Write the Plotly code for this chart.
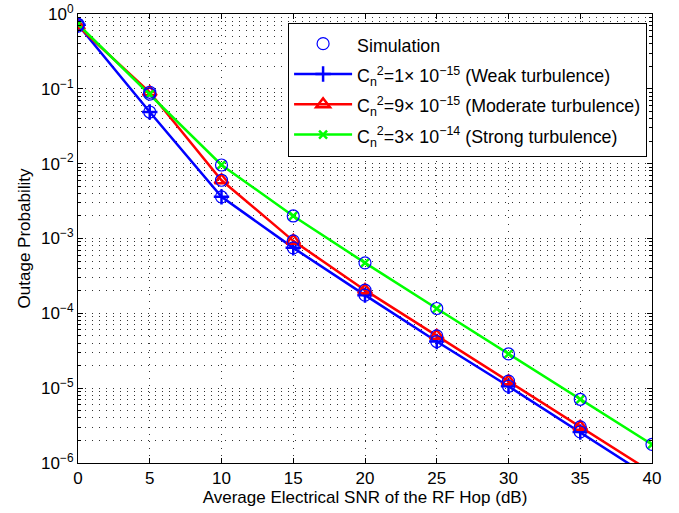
import plotly.graph_objects as go

snr = [0, 5, 10, 15, 20, 25, 30, 35, 40]
weak = [0.72, 0.049, 0.0036, 7.5e-4, 1.75e-4, 4.2e-5, 1.06e-5, 2.6e-6, 6.2e-7]
moderate = [0.69, 0.09, 0.0060, 9.3e-4, 2.04e-4, 5.0e-5, 1.24e-5, 3.04e-6, 7.5e-7]
strong = [0.73, 0.085, 0.0096, 2.0e-3, 4.73e-4, 1.16e-4, 2.87e-5, 7.1e-6, 1.77e-6]

names = [
    "C<sub>n</sub><sup>2</sup>=1× 10<sup>−15</sup> (Weak turbulence)",
    "C<sub>n</sub><sup>2</sup>=9× 10<sup>−15</sup> (Moderate turbulence)",
    "C<sub>n</sub><sup>2</sup>=3× 10<sup>−14</sup> (Strong turbulence)",
]
sim_name = "Simulation"
ytickvals = [1e-6, 1e-5, 1e-4, 1e-3, 1e-2, 1e-1, 1]
yticktext = ["10<sup>−6</sup>", "10<sup>−5</sup>", "10<sup>−4</sup>", "10<sup>−3</sup>",
             "10<sup>−2</sup>", "10<sup>−1</sup>", "10<sup>0</sup>"]
xtickvals = [0, 5, 10, 15, 20, 25, 30, 35, 40]

minor_vals = [m * 10.0 ** e for e in range(-6, 0) for m in range(2, 10)]


def leg(txt):
    return '<span style="font-size:17.8px">' + txt + "</span>"


fig = go.Figure()

styles = [
    dict(color="#0000ff", symbol="cross-thin", size=11),
    dict(color="#ff0000", symbol="triangle-up-open", size=12),
    dict(color="#00ff00", symbol="x-thin", size=8),
]
for i, (vals, st) in enumerate(zip([weak, moderate, strong], styles)):
    fig.add_trace(go.Scatter(
        x=snr, y=vals, mode="lines+markers", name=leg(names[i]),
        line=dict(color=st["color"], width=2.5),
        marker=dict(symbol=st["symbol"], size=st["size"], color=st["color"],
                    line=dict(color=st["color"], width=2.5)),
        legendrank=2 + i,
    ))

for i, vals in enumerate([weak, moderate, strong]):
    fig.add_trace(go.Scatter(
        x=snr, y=vals, mode="markers", name=leg(sim_name),
        marker=dict(symbol="circle-open", size=12, color="#0000ff",
                    line=dict(color="#0000ff", width=1.2)),
        legendgroup="sim", showlegend=(i == 0), legendrank=1,
    ))

grid_dash = "1px,6px"
grid_col = "#333"
fig.update_layout(
    width=679, height=513,
    margin=dict(l=78, r=27, t=14, b=50),
    paper_bgcolor="white", plot_bgcolor="white",
    font=dict(family="Liberation Sans, Arial, sans-serif", size=17, color="black"),
    showlegend=True,
    legend=dict(x=0.366, y=0.981, xanchor="left", yanchor="top",
                bgcolor="white", bordercolor="black", borderwidth=1,
                font=dict(size=21), itemwidth=58, tracegroupgap=0),
)
fig.update_xaxes(
    range=[0, 40], tickvals=xtickvals, showline=True, linecolor="black", linewidth=1,
    mirror="allticks", ticks="inside", ticklen=5, tickcolor="black",
    showgrid=True, gridcolor=grid_col, griddash=grid_dash, gridwidth=1, zeroline=False,
    automargin=False, tickfont=dict(size=17), ticklabeloverflow="allow",
    title=dict(text="Average Electrical SNR of the RF Hop (dB)", standoff=0, font=dict(size=17)),
)
fig.update_yaxes(
    type="log", range=[-6, 0], tickvals=ytickvals, ticktext=yticktext,
    showline=True, linecolor="black", linewidth=1,
    mirror="allticks", ticks="inside", ticklen=5, tickcolor="black",
    showgrid=True, gridcolor=grid_col, griddash=grid_dash, gridwidth=1, zeroline=False,
    automargin=False, tickfont=dict(size=17), ticklabeloverflow="allow",
    minor=dict(tickvals=minor_vals, ticks="inside", ticklen=3, tickcolor="black",
               showgrid=True, gridcolor=grid_col, griddash=grid_dash, gridwidth=1),
    title=dict(text="Outage Probability", standoff=6, font=dict(size=17)),
)

fig.write_html("out.html", config={"displayModeBar": False},
               post_script="document.body.style.margin='0px';")
